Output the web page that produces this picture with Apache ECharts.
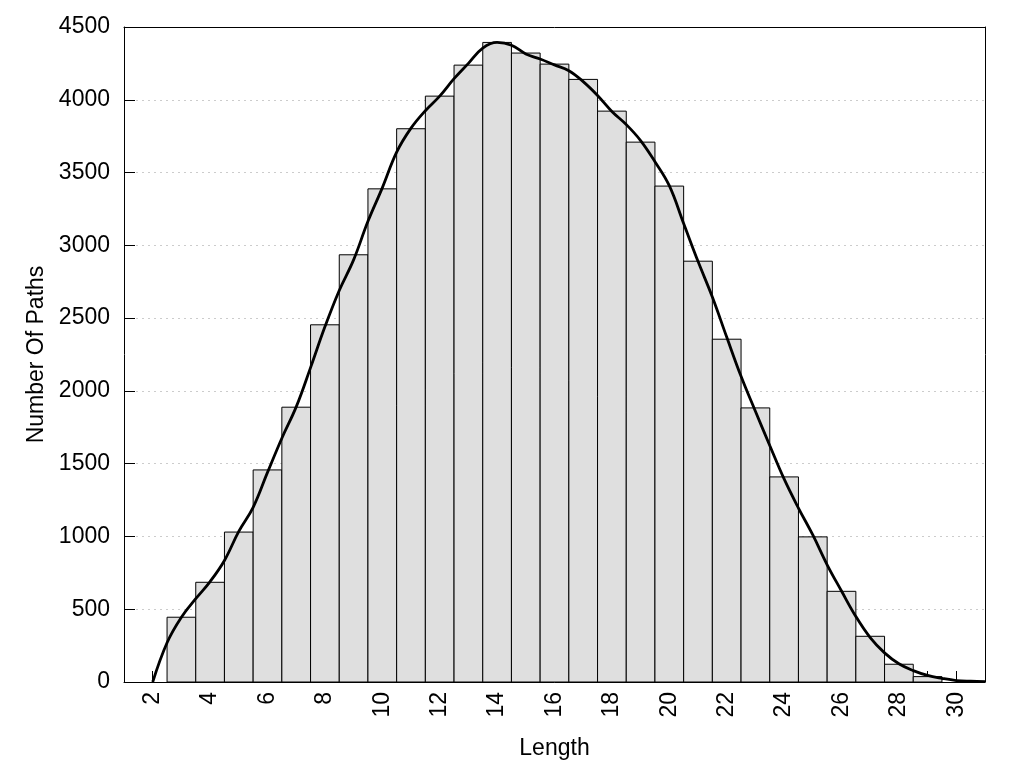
<!DOCTYPE html>
<html>
<head>
<meta charset="utf-8">
<script src="https://cdn.jsdelivr.net/npm/echarts@6/dist/echarts.min.js"></script>
<style>
html,body{margin:0;padding:0;background:#fff;}
#chart{width:1024px;height:768px;}
</style>
</head>
<body>
<div id="chart"></div>
<script>
// Histogram bins (path length) and counts
var lengths = [3,4,5,6,7,8,9,10,11,12,13,14,15,16,17,18,19,20,21,22,23,24,25,26,27,28,29];
var counts  = [445,685,1030,1457,1888,2454,2935,3388,3801,4025,4238,4394,4321,4245,4140,3922,3709,3407,2891,2355,1883,1409,997,623,314,122,37];

// Smoothed density curve
var curveX = [2,2.5,3,3.5,4,4.5,5,5.5,6,6.5,7,7.5,8,8.5,9,9.5,10,10.5,11,11.5,12,12.5,13,13.5,14,14.5,15,15.5,16,16.5,17,17.5,18,18.5,19,19.5,20,20.5,21,21.5,22,22.5,23,23.5,24,24.5,25,25.5,26,26.5,27,27.5,28,28.5,29,29.5,30,30.5,31];
var curveY = [0,270,445,572,690,835,1035,1200,1440,1675,1890,2160,2440,2690,2900,3165,3395,3640,3805,3925,4025,4145,4250,4355,4394,4375,4315,4280,4240,4200,4125,4030,3920,3830,3720,3575,3410,3150,2890,2645,2370,2100,1860,1625,1395,1195,1010,805,625,450,305,200,125,78,45,25,10,5,3];

var yTicks = [0,500,1000,1500,2000,2500,3000,3500,4000,4500];

var barData = lengths.map(function(x,i){return [x, counts[i]];});
var lineData = curveX.map(function(x,i){return [x, curveY[i]];});

var chart = echarts.init(document.getElementById('chart'), null, {renderer:'canvas'});
var font = '"Liberation Sans", Arial, sans-serif';
var frameAxis = {show:true, onZero:false, lineStyle:{color:'#000', width:1}};
chart.setOption({
  animation:false,
  backgroundColor:'#fff',
  grid:{left:124, right:39, top:27, bottom:86, show:false},
  xAxis:[{
    type:'value', min:1, max:31, interval:1,
    name:'Length', nameLocation:'middle', nameGap:55,
    nameTextStyle:{fontFamily:font, fontSize:23, color:'#000'},
    axisLine:{show:true, onZero:false, lineStyle:{color:'#000', width:1}},
    axisTick:{show:true, inside:true, length:11, lineStyle:{color:'#000'}},
    axisLabel:{rotate:90, fontFamily:font, fontSize:23, color:'#000', margin:10,
      formatter:function(v){return v%2===0 ? String(v) : '';}},
    splitLine:{show:false}
  },{
    type:'value', min:1, max:31, position:'top',
    axisLine:frameAxis, axisTick:{show:false}, axisLabel:{show:false}, splitLine:{show:false}
  }],
  yAxis:[{
    type:'value', min:0, max:4500, interval:500,
    name:'Number Of Paths', nameLocation:'middle', nameGap:76, nameRotate:90,
    nameTextStyle:{fontFamily:font, fontSize:23, color:'#000'},
    axisLine:{show:true, onZero:false, lineStyle:{color:'#000', width:1}},
    axisTick:{show:true, inside:true, length:11, lineStyle:{color:'#000'}},
    axisLabel:{fontFamily:font, fontSize:23, color:'#000', margin:14,
      formatter:function(v){return yTicks.indexOf(v)>=0 ? String(v) : '';}},
    splitLine:{show:true, lineStyle:{color:'#cccccc', type:[2,4], width:1}}
  },{
    type:'value', min:0, max:4500, position:'right',
    axisLine:frameAxis, axisTick:{show:false}, axisLabel:{show:false}, splitLine:{show:false}
  }],
  series:[
    {
      type:'custom',
      data:barData,
      z:2,
      renderItem:function(params, api){
        var x = api.value(0), y = api.value(1);
        var top = api.coord([x - 0.5, y]);
        var bottom = api.coord([x + 0.5, 0]);
        return {
          type:'rect',
          shape:{x:top[0], y:top[1], width:bottom[0]-top[0], height:bottom[1]-top[1]},
          style:{fill:'#dfdfdf', stroke:'#000', lineWidth:1}
        };
      }
    },
    {
      type:'line',
      data:lineData,
      smooth:0.4,
      showSymbol:false,
      z:5,
      lineStyle:{color:'#000', width:2.8}
    }
  ]
});
</script>
</body>
</html>
